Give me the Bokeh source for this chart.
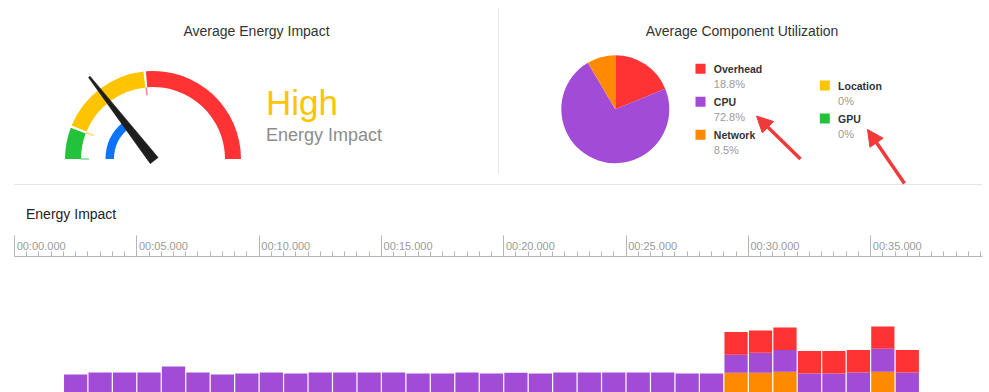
import math
from bokeh.plotting import figure
from bokeh.layouts import column
from bokeh.models import (Range1d, LinearAxis, SingleIntervalTicker, Arrow,
                          NormalHead, ColumnDataSource)
from bokeh.core.properties import value
from bokeh.embed import file_html
from bokeh.resources import INLINE

# ---------------- data ----------------
gauge_levels = ["Low", "High", "Very High"]
gauge_bounds = [0, 12, 47, 100]          # dial scale, percent of the arc
gauge_colors = ["#22C33A", "#FFC400", "#FF3333"]
needle_value = 29
average_value = 28
impact_label = "High"

components = ["Overhead", "CPU", "Network", "Location", "GPU"]
utilization = [18.8, 72.8, 8.5, 0, 0]
component_colors = ["#FF3333", "#A24BD7", "#FF8A00", "#FFC400", "#22C33A"]

seconds = [2, 3, 4, 5, 6, 7, 8, 9, 10, 11, 12, 13, 14, 15, 16, 17, 18, 19, 20,
           21, 22, 23, 24, 25, 26, 27, 28, 29, 30, 31, 32, 33, 34, 35, 36]
cpu = [18.3, 20.3, 20.3, 20.3, 26.3, 20.3, 18.3, 19.3, 20.3, 19.3, 20.3, 20.3,
       20.3, 20.3, 19.3, 19.3, 20.3, 19.3, 20.0, 19.3, 20.3, 20.3, 20.3, 20.3,
       20.3, 19.3, 19.3, 18.3, 20.3, 22.0, 19.3, 19.3, 20.3, 23.3, 20.3]
network = [0, 0, 0, 0, 0, 0, 0, 0, 0, 0, 0, 0, 0, 0, 0, 0, 0, 0, 0, 0, 0, 0, 0,
           0, 0, 0, 0, 20.0, 20.0, 21.0, 0, 0, 0, 21.0, 0]
overhead = [0, 0, 0, 0, 0, 0, 0, 0, 0, 0, 0, 0, 0, 0, 0, 0, 0, 0, 0, 0, 0, 0, 0,
            0, 0, 0, 0, 23.0, 22.7, 23.0, 22.7, 22.7, 22.7, 22.7, 22.7]

tick_seconds = [0, 5, 10, 15, 20, 25, 30, 35]
tick_labels = ["00:00.000", "00:05.000", "00:10.000", "00:15.000",
               "00:20.000", "00:25.000", "00:30.000", "00:35.000"]

# ---------------- styling ----------------
FONT_NAME = "Liberation Sans"
FONT = value(FONT_NAME)
RED_ARROW = "#F03A3A"
LEFT, RIGHT = 14, 7          # shared frame borders (column aligns frames)


def Y(ry):
    return 392 - ry


# ---------------- top panel (gauge + pie) ----------------
top = figure(width=989, height=230, x_range=Range1d(LEFT, 989 - RIGHT),
             y_range=Range1d(162, 392),
             output_backend="svg", toolbar_location=None, min_border=0,
             min_border_left=LEFT, min_border_right=RIGHT,
             x_axis_location=None, y_axis_location=None, outline_line_color=None)
top.grid.visible = False

# separators
top.segment(x0=[12, 498], y0=[Y(184), Y(8)], x1=[985, 498], y1=[Y(184), Y(173)],
            line_color="#E6E6E6", line_width=1)

# titles
top.text(x=[256, 741.5], y=[Y(30.5), Y(30.5)],
         text=["Average Energy Impact", "Average Component Utilization"],
         text_align="center", text_baseline="middle", text_font=FONT,
         text_font_size="14px", text_color="#333333")

# gauge
GX, GY = 152.5, Y(158.5)


def ang(v):
    return math.pi * (1 - v / 100.0)


gap = math.radians(0.8)
seg_start, seg_end = [], []
for lo, hi in zip(gauge_bounds[:-1], gauge_bounds[1:]):
    s = ang(hi) + (gap if hi < gauge_bounds[-1] else 0)
    e = ang(lo) - (gap if lo > gauge_bounds[0] else 0)
    seg_start.append(s)
    seg_end.append(e)
top.annular_wedge(x=GX, y=GY, inner_radius=72, outer_radius=88,
                  start_angle=seg_start, end_angle=seg_end,
                  fill_color=gauge_colors, line_color=None)
# small boundary ticks
tx0 = [GX + 64 * math.cos(ang(b)) for b in gauge_bounds[:-1]]
ty0 = [GY + 64 * math.sin(ang(b)) for b in gauge_bounds[:-1]]
tx1 = [GX + 72 * math.cos(ang(b)) for b in gauge_bounds[:-1]]
ty1 = [GY + 72 * math.sin(ang(b)) for b in gauge_bounds[:-1]]
top.segment(x0=tx0, y0=ty0, x1=tx1, y1=ty1, line_color=gauge_colors,
            line_width=1.5, line_alpha=0.6)

# average arc (blue)
top.annular_wedge(x=GX, y=GY, inner_radius=39, outer_radius=47.5,
                  start_angle=ang(average_value), end_angle=math.pi,
                  fill_color="#0A74FF", line_color=None)

# needle
th = ang(needle_value)
ux, uy = math.cos(th), math.sin(th)
px, py = -uy, ux
bx, by = GX - 2 * ux, GY - 2 * uy
tipx, tipy = GX + 104 * ux, GY + 104 * uy
top.patch(x=[bx + 5.0 * px, tipx + 1.0 * px, tipx - 1.0 * px, bx - 5.0 * px],
          y=[by + 5.0 * py, tipy + 1.0 * py, tipy - 1.0 * py, by - 5.0 * py],
          fill_color="#1E1E1E", line_color="#1E1E1E", line_width=0.5)

# impact text
top.text(x=[265.5], y=[Y(101.7)], text=[impact_label], text_align="left",
         text_baseline="middle", text_font=FONT, text_font_size="35px",
         text_color="#FFC400")
top.text(x=[265.5], y=[Y(134.9)], text=["Energy Impact"], text_align="left",
         text_baseline="middle", text_font=FONT, text_font_size="18px",
         text_color="#8C8C8C")

# pie
PX, PY, PR = 614.8, Y(108.7), 54
total = sum(utilization)
cum = 0.0
w_start, w_end, w_col = [], [], []
for u, c in zip(utilization, component_colors):
    a0 = math.pi / 2 - 2 * math.pi * cum / total
    cum += u
    a1 = math.pi / 2 - 2 * math.pi * cum / total
    if u > 0:
        w_start.append(a1)
        w_end.append(a0)
        w_col.append(c)
top.wedge(x=PX, y=PY, radius=PR, start_angle=w_start, end_angle=w_end,
          fill_color=w_col, line_color=None)

# legend
lx, ly = [], []
for i in range(len(components)):
    if i < 3:
        lx.append(700)
        ly.append(Y(68.3 + 33 * i))
    else:
        lx.append(824.3)
        ly.append(Y(85 + 33 * (i - 3)))
top.rect(x=lx, y=ly, width=10, height=10, fill_color=component_colors, line_color=None)
top.text(x=[x + 13.3 for x in lx], y=[y - 0.5 for y in ly], text=components,
         text_align="left", text_baseline="middle", text_font=FONT,
         text_font_size="10.5px", text_font_style="bold", text_color="#333333")
top.text(x=[x + 13.3 for x in lx], y=[y - 15.3 for y in ly],
         text=[f"{u:g}%" for u in utilization], text_align="left",
         text_baseline="middle", text_font=FONT, text_font_size="11px",
         text_color="#9A9A9A")

# annotation arrows
for (xs, ys, xe, ye) in [(800, 158.5, 756, 115.5), (904, 183, 867, 129)]:
    top.add_layout(Arrow(end=NormalHead(size=16, fill_color=RED_ARROW,
                                        line_color=RED_ARROW, line_width=1),
                         x_start=xs, y_start=Y(ys), x_end=xe, y_end=Y(ye),
                         line_color=RED_ARROW, line_width=3.5))

# bottom chart title
top.text(x=[25.5], y=[Y(213.9)], text=["Energy Impact"], text_align="left",
         text_baseline="middle", text_font=FONT, text_font_size="14px",
         text_color="#222222")

# ---------------- bottom panel (timeline bars) ----------------
PX_PER_S = 24.46
bot = figure(width=989, height=162, x_range=Range1d(0, (989 - LEFT - RIGHT) / PX_PER_S),
             y_range=Range1d(0, 138), output_backend="svg", toolbar_location=None,
             min_border=0, min_border_left=LEFT, min_border_right=RIGHT,
             min_border_top=24, min_border_bottom=0,
             x_axis_location=None, y_axis_location=None, outline_line_color=None)
bot.grid.visible = False

src = ColumnDataSource(dict(t=[s + 0.5 for s in seconds], network=network,
                            cpu=cpu, overhead=overhead))
bot.vbar_stack(["network", "cpu", "overhead"], x="t", width=0.95, source=src,
               fill_color=["#FF8A00", "#A24BD7", "#FF3333"], line_color=None)

pad = "\u2009"
axis = LinearAxis(ticker=SingleIntervalTicker(interval=5, num_minor_ticks=10),
                  major_label_overrides={t: pad + l for t, l in zip(tick_seconds, tick_labels)},
                  major_label_orientation=0.0,
                  axis_line_color="#B5B5B5", major_tick_line_color="#B5B5B5",
                  minor_tick_line_color="#B5B5B5", major_tick_in=0, major_tick_out=21,
                  minor_tick_in=0, minor_tick_out=5, major_label_standoff=-10,
                  major_label_text_font=FONT_NAME, major_label_text_font_size="11px",
                  major_label_text_color="#9A9A9A")
bot.add_layout(axis, "above")

layout = column(top, bot, spacing=0)
open("out.html", "w").write(file_html(layout, INLINE))
